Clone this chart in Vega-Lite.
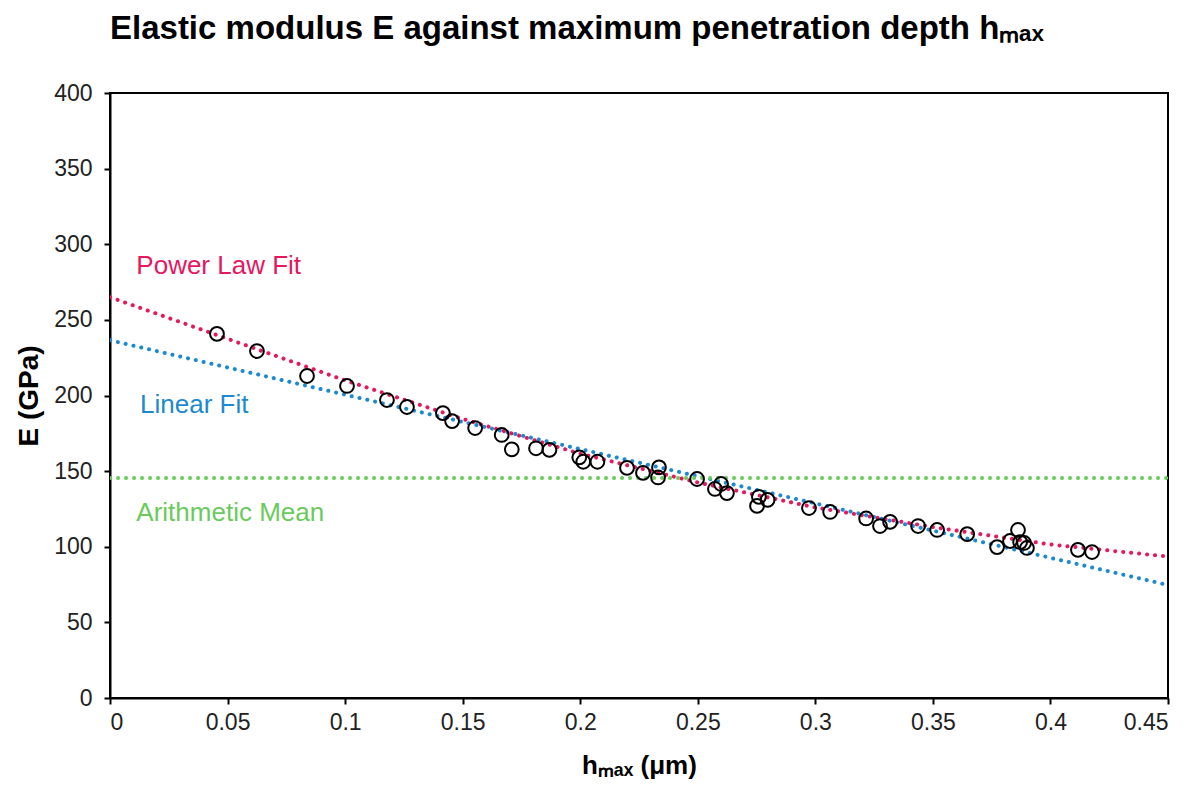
{
  "$schema": "https://vega.github.io/schema/vega-lite/v6.json",
  "width": 1058,
  "height": 605,
  "autosize": "none",
  "padding": {"left": 110, "top": 93, "right": 34, "bottom": 87},
  "background": "white",
  "title": {
    "text": "Elastic modulus E against maximum penetration depth hₘₐₓ",
    "anchor": "start",
    "frame": "group",
    "font": "Liberation Sans",
    "fontSize": 33,
    "fontWeight": "bold",
    "color": "black",
    "offset": 36
  },
  "config": {
    "view": {"stroke": "black", "strokeWidth": 2},
    "axis": {
      "domainColor": "black",
      "domainWidth": 2,
      "tickColor": "black",
      "tickWidth": 2,
      "tickSize": 6,
      "grid": false,
      "labelFont": "Liberation Sans",
      "labelFontSize": 23,
      "labelColor": "#222222",
      "titleFont": "Liberation Sans",
      "titleFontWeight": "bold",
      "titleColor": "black"
    }
  },
  "datasets": {
    "measurements": [
      {"h": 0.0455, "E": 240.7},
      {"h": 0.0625, "E": 229.4},
      {"h": 0.0838, "E": 212.9},
      {"h": 0.1008, "E": 206.3},
      {"h": 0.1178, "E": 197.0},
      {"h": 0.1263, "E": 192.4},
      {"h": 0.1416, "E": 188.4},
      {"h": 0.1455, "E": 183.1},
      {"h": 0.1553, "E": 178.5},
      {"h": 0.1666, "E": 173.9},
      {"h": 0.1709, "E": 164.4},
      {"h": 0.1812, "E": 165.1},
      {"h": 0.1869, "E": 164.0},
      {"h": 0.1996, "E": 159.1},
      {"h": 0.2013, "E": 156.2},
      {"h": 0.2073, "E": 156.2},
      {"h": 0.2199, "E": 152.1},
      {"h": 0.2267, "E": 148.8},
      {"h": 0.2335, "E": 152.5},
      {"h": 0.2331, "E": 145.8},
      {"h": 0.2497, "E": 144.8},
      {"h": 0.2573, "E": 138.2},
      {"h": 0.2599, "E": 141.5},
      {"h": 0.2624, "E": 135.5},
      {"h": 0.2752, "E": 127.0},
      {"h": 0.2760, "E": 133.0},
      {"h": 0.2797, "E": 131.0},
      {"h": 0.2973, "E": 125.6},
      {"h": 0.3063, "E": 123.0},
      {"h": 0.3216, "E": 118.7},
      {"h": 0.3275, "E": 113.7},
      {"h": 0.3318, "E": 116.4},
      {"h": 0.3437, "E": 113.7},
      {"h": 0.3518, "E": 111.1},
      {"h": 0.3646, "E": 108.4},
      {"h": 0.3773, "E": 99.8},
      {"h": 0.3828, "E": 103.8},
      {"h": 0.3862, "E": 111.1},
      {"h": 0.3871, "E": 103.1},
      {"h": 0.3888, "E": 102.5},
      {"h": 0.3900, "E": 99.2},
      {"h": 0.4117, "E": 97.9},
      {"h": 0.4177, "E": 96.5}
    ],
    "fits": [
      {"series": "Power Law Fit", "h": 0.0, "E": 265.0},
      {"series": "Power Law Fit", "h": 0.05, "E": 237.5},
      {"series": "Power Law Fit", "h": 0.1, "E": 210.0},
      {"series": "Power Law Fit", "h": 0.15, "E": 184.5},
      {"series": "Power Law Fit", "h": 0.2, "E": 161.5},
      {"series": "Power Law Fit", "h": 0.25, "E": 142.5},
      {"series": "Power Law Fit", "h": 0.3, "E": 126.0},
      {"series": "Power Law Fit", "h": 0.35, "E": 113.0},
      {"series": "Power Law Fit", "h": 0.4, "E": 101.5},
      {"series": "Power Law Fit", "h": 0.45, "E": 93.5},
      {"series": "Linear Fit", "h": 0.0, "E": 236.5},
      {"series": "Linear Fit", "h": 0.45, "E": 74.7},
      {"series": "Arithmetic Mean", "h": 0.0, "E": 145.5},
      {"series": "Arithmetic Mean", "h": 0.45, "E": 145.5}
    ],
    "labels": [
      {"label": "Power Law Fit"},
      {"label": "Linear Fit"},
      {"label": "Arithmetic Mean"}
    ]
  },
  "layer": [
    {
      "data": {"name": "fits"},
      "mark": {"type": "line", "strokeWidth": 4, "strokeCap": "round", "strokeDash": [0.1, 7.9], "clip": true},
      "encoding": {
        "x": {
          "field": "h",
          "type": "quantitative",
          "scale": {"domain": [0, 0.45], "nice": false, "zero": false},
          "axis": {
            "title": "hₘₐₓ (μm)",
            "titleFontSize": 26,
            "values": [0, 0.05, 0.1, 0.15, 0.2, 0.25, 0.3, 0.35, 0.4, 0.45],
            "format": "~g",
            "labelPadding": 7,
            "titlePadding": 18
          }
        },
        "y": {
          "field": "E",
          "type": "quantitative",
          "scale": {"domain": [0, 400], "nice": false},
          "axis": {
            "title": "E (GPa)",
            "titleFontSize": 28,
            "values": [0, 50, 100, 150, 200, 250, 300, 350, 400],
            "labelPadding": 12,
            "titlePadding": 10
          }
        },
        "detail": {"field": "series"},
        "color": {
          "field": "series",
          "type": "nominal",
          "scale": {
            "domain": ["Power Law Fit", "Linear Fit", "Arithmetic Mean"],
            "range": ["#E5175F", "#1D8ACF", "#6ACB5C"]
          },
          "legend": null
        }
      }
    },
    {
      "data": {"name": "measurements"},
      "mark": {"type": "point", "shape": "circle", "filled": false, "stroke": "black", "strokeWidth": 2, "size": 190, "opacity": 1},
      "encoding": {
        "x": {"field": "h", "type": "quantitative"},
        "y": {"field": "E", "type": "quantitative"}
      }
    },
    {
      "data": {"name": "labels"},
      "transform": [{"filter": "datum.label === 'Power Law Fit'"}],
      "mark": {"type": "text", "align": "left", "baseline": "middle", "font": "Liberation Sans", "fontSize": 26, "fill": "#E5175F"},
      "encoding": {
        "x": {"datum": 0.0112, "type": "quantitative"},
        "y": {"datum": 285.5, "type": "quantitative"},
        "text": {"field": "label", "type": "nominal"}
      }
    },
    {
      "data": {"name": "labels"},
      "transform": [{"filter": "datum.label === 'Linear Fit'"}],
      "mark": {"type": "text", "align": "left", "baseline": "middle", "font": "Liberation Sans", "fontSize": 26, "fill": "#1D8ACF"},
      "encoding": {
        "x": {"datum": 0.0128, "type": "quantitative"},
        "y": {"datum": 193.5, "type": "quantitative"},
        "text": {"field": "label", "type": "nominal"}
      }
    },
    {
      "data": {"name": "labels"},
      "transform": [{"filter": "datum.label === 'Arithmetic Mean'"}],
      "mark": {"type": "text", "align": "left", "baseline": "middle", "font": "Liberation Sans", "fontSize": 26, "fill": "#6ACB5C"},
      "encoding": {
        "x": {"datum": 0.0112, "type": "quantitative"},
        "y": {"datum": 122.3, "type": "quantitative"},
        "text": {"field": "label", "type": "nominal"}
      }
    }
  ]
}
